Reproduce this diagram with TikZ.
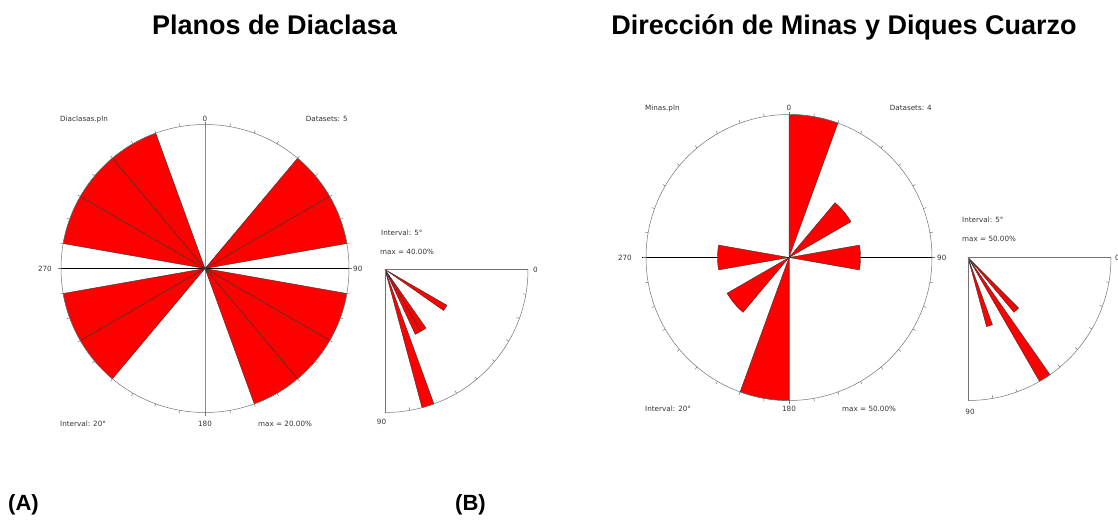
\documentclass[tikz,border=0pt]{standalone}
\usepackage{fontspec}
\setmainfont{Liberation Sans}
\newfontfamily\chartfont{DejaVu Sans}
\begin{document}
\begin{tikzpicture}[x=1pt,y=1pt,
  every node/.style={inner sep=0pt},
  ttl/.style={font=\bfseries\fontsize{27}{30}\selectfont},
  tag/.style={font=\bfseries\fontsize{22}{24}\selectfont},
  lbl/.style={font=\chartfont\fontsize{7.2}{8}\selectfont,text=black!80},
  petal/.style={fill=red,draw=black!80,line width=0.4pt},
  rim/.style={draw=black!55,line width=0.5pt}]

  \useasboundingbox (0,0) rectangle (1118,-519);

  % Titles and panel letters
  \node[ttl,anchor=base] (ttlA) at (274.5,-35) {Planos de Diaclasa};
  \node[ttl,anchor=base] (ttlB) at (844,-35) {Dirección de Minas y Diques Cuarzo};
  \node[tag,anchor=base west] (tagA) at (8,-510) {(A)};
  \node[tag,anchor=base west] (tagB) at (455,-510) {(B)};

  % Rose of joint planes (A)
  \begin{scope}[shift={(205,-268.5)}]
    \draw[black!45] (0,144) -- (0,-144);
    \draw (-145,0) -- (147,0);
    \foreach \ang in {40,60,100,120,140,220,240,280,300,320}
      \draw[petal] (0,0) -- ({90-\ang}:144) arc[start angle={90-\ang}, delta angle=-20, radius=144] -- cycle;
    \draw[rim] (0,0) circle (144);
    \foreach \ang in {0,10,...,350}
      \draw[rim] ({90-\ang}:144) -- ({90-\ang}:147);
    \node[lbl,anchor=base] (roseAn) at (0,147.5) {0};
    \node[lbl,anchor=base west] (roseAf) at (-145,147.5) {Diaclasas.pln};
    \node[lbl,anchor=base east] (roseAd) at (143,147.5) {Datasets: 5};
    \node[lbl,anchor=base east] (roseAw) at (-153,-2.7) {270};
    \node[lbl,anchor=base west] (roseAe) at (148,-2.7) {90};
    \node[lbl,anchor=base west] (roseAi) at (-145,-157.5) {Interval: 20°};
    \node[lbl,anchor=base] (roseAs) at (0,-157.5) {180};
    \node[lbl,anchor=base west] (roseAm) at (53,-157.5) {max = 20.00\%};
  \end{scope}

  % Dip fan of joint planes (A)
  \begin{scope}[shift={(385,-269.5)}]
    \foreach \ang/\len in {30/71.5,55/71.5,60/71.5,70/143}
      \draw[petal] (0,0) -- (-\ang:\len) arc[start angle=-\ang, delta angle=-5, radius=\len] -- cycle;
    \draw[rim] (143,0) -- (0,0) -- (0,-143);
    \draw[rim] (0:143) arc[start angle=0, end angle=-90, radius=143];
    \foreach \ang in {10,20,...,80}
      \draw[rim] (-\ang:143) -- (-\ang:140);
    \node[lbl,anchor=base west] (fanAi) at (-4,33.8) {Interval: 5°};
    \node[lbl,anchor=base west] (fanAm) at (-5,14.8) {max = 40.00\%};
    \node[lbl,anchor=base west] (fanAe) at (148,-2.7) {0};
    \node[lbl,anchor=base] (fanAs) at (-3.5,-155.2) {90};
  \end{scope}

  % Rose of mines and quartz dykes (B)
  \begin{scope}[shift={(789,-257.5)}]
    \draw[black!45] (0,143) -- (0,-143);
    \draw (-147,0) -- (145,0);
    \foreach \ang/\len in {0/143,180/143,40/71.5,80/71.5,220/71.5,260/71.5}
      \draw[petal] (0,0) -- ({90-\ang}:\len) arc[start angle={90-\ang}, delta angle=-20, radius=\len] -- cycle;
    \draw[rim] (0,0) circle (143);
    \foreach \ang in {0,10,...,350}
      \draw[rim] ({90-\ang}:143) -- ({90-\ang}:146);
    \node[lbl,anchor=base] (roseBn) at (0,146.8) {0};
    \node[lbl,anchor=base west] (roseBf) at (-144,146.8) {Minas.pln};
    \node[lbl,anchor=base east] (roseBd) at (143,146.8) {Datasets: 4};
    \node[lbl,anchor=base east] (roseBw) at (-157,-2.7) {270};
    \node[lbl,anchor=base west] (roseBe) at (148,-2.7) {90};
    \node[lbl,anchor=base west] (roseBi) at (-144,-154.2) {Interval: 20°};
    \node[lbl,anchor=base] (roseBs) at (0,-154.2) {180};
    \node[lbl,anchor=base west] (roseBm) at (53,-154.2) {max = 50.00\%};
  \end{scope}

  % Dip fan of mines and quartz dykes (B)
  \begin{scope}[shift={(968,-257.5)}]
    \foreach \ang/\len in {45/71.5,55/143,70/71.5}
      \draw[petal] (0,0) -- (-\ang:\len) arc[start angle=-\ang, delta angle=-5, radius=\len] -- cycle;
    \draw[rim] (143,0) -- (0,0) -- (0,-143);
    \draw[rim] (0:143) arc[start angle=0, end angle=-90, radius=143];
    \foreach \ang in {10,20,...,80}
      \draw[rim] (-\ang:143) -- (-\ang:140);
    \node[lbl,anchor=base west] (fanBi) at (-6,34.8) {Interval: 5°};
    \node[lbl,anchor=base west] (fanBm) at (-6,15.8) {max = 50.00\%};
    \node[lbl,anchor=base west] (fanBe) at (147,-2.7) {0};
    \node[lbl,anchor=base] (fanBs) at (2,-157.2) {90};
  \end{scope}

\end{tikzpicture}
\end{document}
